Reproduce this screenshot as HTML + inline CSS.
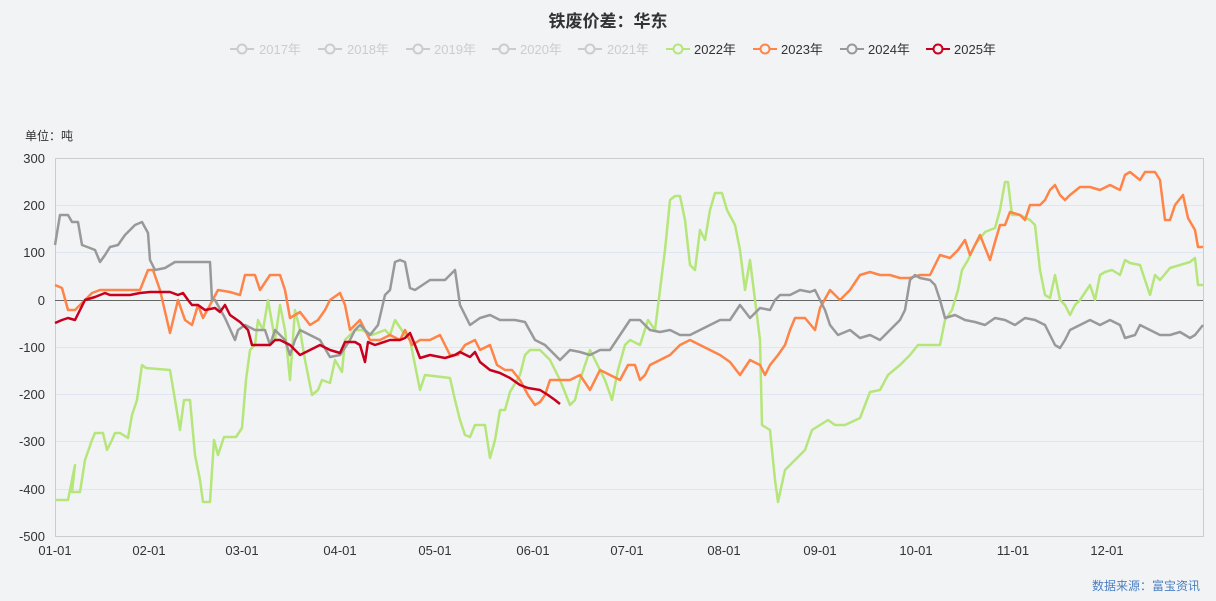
<!DOCTYPE html>
<html><head><meta charset="utf-8"><style>
body{margin:0;background:#f2f3f5;}
svg{display:block;font-family:"Liberation Sans","Noto Sans CJK SC",sans-serif;}
</style></head><body>
<svg width="1216" height="601" viewBox="0 0 1216 601">
<rect width="1216" height="601" fill="#f2f3f5"/>
<text x="608" y="27" text-anchor="middle" font-size="17" font-weight="bold" fill="#333">铁废价差：华东</text>
<g font-size="13" fill="#ccc">
<g stroke="#ccc" stroke-width="2" fill="none">
<line x1="230" y1="49" x2="254" y2="49"/><circle cx="242" cy="49" r="4.5" fill="#f2f3f5"/>
<line x1="318" y1="49" x2="342" y2="49"/><circle cx="330" cy="49" r="4.5" fill="#f2f3f5"/>
<line x1="406" y1="49" x2="430" y2="49"/><circle cx="418" cy="49" r="4.5" fill="#f2f3f5"/>
<line x1="492" y1="49" x2="516" y2="49"/><circle cx="504" cy="49" r="4.5" fill="#f2f3f5"/>
<line x1="578" y1="49" x2="602" y2="49"/><circle cx="590" cy="49" r="4.5" fill="#f2f3f5"/>
</g>
<text x="259" y="54">2017年</text><text x="347" y="54">2018年</text><text x="434" y="54">2019年</text><text x="520" y="54">2020年</text><text x="607" y="54">2021年</text>
<g stroke-width="2" fill="#f2f3f5">
<line x1="666" y1="49" x2="690" y2="49" stroke="#b5e67a"/><circle cx="678" cy="49" r="4.5" stroke="#b5e67a"/>
<line x1="753" y1="49" x2="777" y2="49" stroke="#ff8447"/><circle cx="765" cy="49" r="4.5" stroke="#ff8447"/>
<line x1="840" y1="49" x2="864" y2="49" stroke="#999"/><circle cx="852" cy="49" r="4.5" stroke="#999"/>
<line x1="926" y1="49" x2="950" y2="49" stroke="#c8001e"/><circle cx="938" cy="49" r="4.5" stroke="#c8001e"/>
</g>
<g fill="#333"><text x="694" y="54">2022年</text><text x="781" y="54">2023年</text><text x="868" y="54">2024年</text><text x="954" y="54">2025年</text></g>
</g>
<text x="25" y="140" font-size="12" fill="#333">单位：吨</text>
<g stroke="#e0e6f1" stroke-width="1">
<line x1="55" y1="205.5" x2="1203" y2="205.5"/><line x1="55" y1="252.5" x2="1203" y2="252.5"/>
<line x1="55" y1="347.5" x2="1203" y2="347.5"/><line x1="55" y1="394.5" x2="1203" y2="394.5"/>
<line x1="55" y1="441.5" x2="1203" y2="441.5"/><line x1="55" y1="489.5" x2="1203" y2="489.5"/>
</g>
<rect x="55.5" y="158.5" width="1148" height="378" fill="none" stroke="#ccc"/>
<line x1="55" y1="300.5" x2="1203" y2="300.5" stroke="#666"/>
<g font-size="13" fill="#333" text-anchor="end">
<text x="45" y="163">300</text><text x="45" y="210">200</text><text x="45" y="257">100</text><text x="45" y="305">0</text>
<text x="45" y="352">-100</text><text x="45" y="399">-200</text><text x="45" y="446">-300</text><text x="45" y="494">-400</text><text x="45" y="541">-500</text>
</g>
<g font-size="13" fill="#333" text-anchor="middle">
<text x="55" y="555">01-01</text><text x="149" y="555">02-01</text><text x="242" y="555">03-01</text><text x="340" y="555">04-01</text>
<text x="435" y="555">05-01</text><text x="533" y="555">06-01</text><text x="627" y="555">07-01</text><text x="724" y="555">08-01</text>
<text x="820" y="555">09-01</text><text x="916" y="555">10-01</text><text x="1013" y="555">11-01</text><text x="1107" y="555">12-01</text>
</g>
<g fill="none" stroke-width="2.5" stroke-linejoin="round">
<polyline stroke="#b5e67a" points="55,500 68,500 70,490 75,465 72,492 80,492 85,460 92,440 95,433 103,433 107,450 112,440 115,433 120,433 128,438 132,415 137,400 142,365 146,368 170,370 175,400 180,430 184,400 190,400 195,455 200,480 203,502 210,502 214,440 218,455 224,437 236,437 242,428 246,380 250,350 255,345 258,320 263,330 268,300 275,340 280,305 285,330 290,380 295,310 300,330 305,360 312,395 318,390 322,380 330,383 335,360 342,372 345,340 355,330 362,330 372,335 385,330 390,335 395,320 405,335 410,340 420,390 425,375 450,378 455,400 460,420 465,435 470,437 475,425 485,425 490,458 495,440 500,410 505,410 510,392 520,375 525,355 530,350 540,350 550,360 560,380 570,405 575,400 580,380 590,350 595,360 605,380 612,400 618,370 625,345 630,340 640,345 648,320 655,330 660,290 665,250 670,200 675,196 680,196 685,220 690,265 695,270 700,230 705,240 710,210 715,193 722,193 727,210 735,225 740,250 745,290 750,260 755,300 760,340 762,425 770,430 775,480 778,502 785,470 795,460 805,450 812,430 820,425 828,420 835,425 845,425 860,418 870,392 880,390 888,375 900,365 910,355 918,345 940,345 945,320 952,310 958,290 962,270 968,260 975,245 985,232 995,228 1000,210 1005,182 1008,182 1012,215 1020,215 1030,220 1035,225 1040,270 1045,295 1050,298 1055,275 1060,300 1065,305 1070,315 1075,305 1080,300 1090,285 1095,300 1100,275 1105,272 1112,270 1120,275 1125,260 1130,263 1140,265 1145,280 1150,295 1155,275 1160,280 1170,268 1180,265 1190,262 1195,258 1198,285 1203,285"/>
<polyline stroke="#ff8447" points="55,285 62,288 68,310 75,310 85,300 92,293 100,290 140,290 148,270 153,270 160,290 170,333 178,300 185,320 192,325 198,305 203,318 210,305 218,290 230,292 240,295 245,275 255,275 260,290 270,275 280,275 285,290 290,318 300,312 310,325 318,320 325,310 330,300 340,293 345,305 350,330 360,320 370,340 380,340 390,335 400,340 405,330 412,345 420,340 430,340 440,335 445,345 450,355 458,355 465,345 475,340 480,350 490,345 497,365 505,370 512,370 520,380 528,395 535,405 540,402 545,395 550,380 560,380 570,380 580,375 590,390 600,370 610,375 620,380 628,365 635,365 640,380 645,375 650,365 660,360 670,355 680,345 690,340 700,345 710,350 720,355 730,362 740,375 750,360 760,365 765,375 770,365 778,355 785,345 790,330 795,318 805,318 815,330 820,308 830,290 840,300 850,290 860,275 870,272 880,275 890,275 900,278 910,278 920,275 930,275 940,255 950,258 958,250 965,240 970,255 975,245 980,235 990,260 995,242 1000,225 1005,225 1010,212 1020,215 1025,220 1030,205 1040,205 1045,200 1050,190 1055,185 1060,195 1065,200 1070,195 1080,187 1090,187 1100,190 1110,185 1120,190 1125,175 1130,172 1140,180 1145,172 1155,172 1160,180 1165,220 1170,220 1175,205 1183,195 1188,218 1195,230 1198,247 1203,247"/>
<polyline stroke="#999" points="55,245 60,215 68,215 72,222 78,222 82,245 90,248 95,250 100,262 105,255 110,247 118,245 125,235 130,230 135,225 142,222 148,233 150,260 155,270 165,268 175,262 210,262 212,300 215,300 225,318 235,340 238,330 245,325 255,330 265,330 270,345 275,330 285,340 290,355 295,340 300,330 310,335 320,340 330,357 340,355 350,340 355,330 360,325 370,335 378,325 385,295 390,290 395,262 400,260 405,262 410,288 415,290 430,280 445,280 455,270 460,305 470,325 480,318 490,315 500,320 515,320 525,322 535,340 545,345 555,355 560,360 570,350 580,352 590,355 600,350 610,350 620,335 630,320 640,320 650,330 660,332 670,330 680,335 690,335 700,330 710,325 720,320 730,320 740,305 750,318 760,308 770,310 775,300 780,295 790,295 800,290 810,292 815,290 820,300 825,310 830,325 838,335 850,330 860,338 870,335 880,340 890,330 900,320 905,310 910,280 915,275 920,278 930,280 935,285 940,300 945,318 955,315 965,320 975,322 985,325 995,318 1005,320 1015,325 1025,318 1035,320 1045,325 1055,345 1060,348 1065,340 1070,330 1080,325 1090,320 1100,325 1110,320 1120,325 1125,338 1135,335 1140,325 1150,330 1160,335 1170,335 1180,332 1190,338 1195,335 1203,325"/>
<polyline stroke="#c8001e" points="55,323 62,320 68,318 75,320 80,310 85,300 95,297 105,293 110,295 120,295 130,295 140,293 150,292 160,292 170,292 178,295 183,293 188,300 192,305 198,305 205,310 215,308 220,312 225,305 230,315 240,322 248,330 252,345 262,345 270,345 275,340 280,340 290,345 300,355 310,350 320,345 330,350 340,353 345,342 355,342 360,345 365,362 368,342 375,345 390,340 400,340 405,338 410,333 415,345 420,358 430,355 445,358 455,355 460,352 470,357 475,352 480,362 490,370 500,373 510,378 520,385 528,388 540,390 548,395 555,400 560,404"/>
</g>
<text x="1200" y="590" text-anchor="end" font-size="12" fill="#4a7fc1">数据来源：富宝资讯</text>
</svg>
</body></html>
